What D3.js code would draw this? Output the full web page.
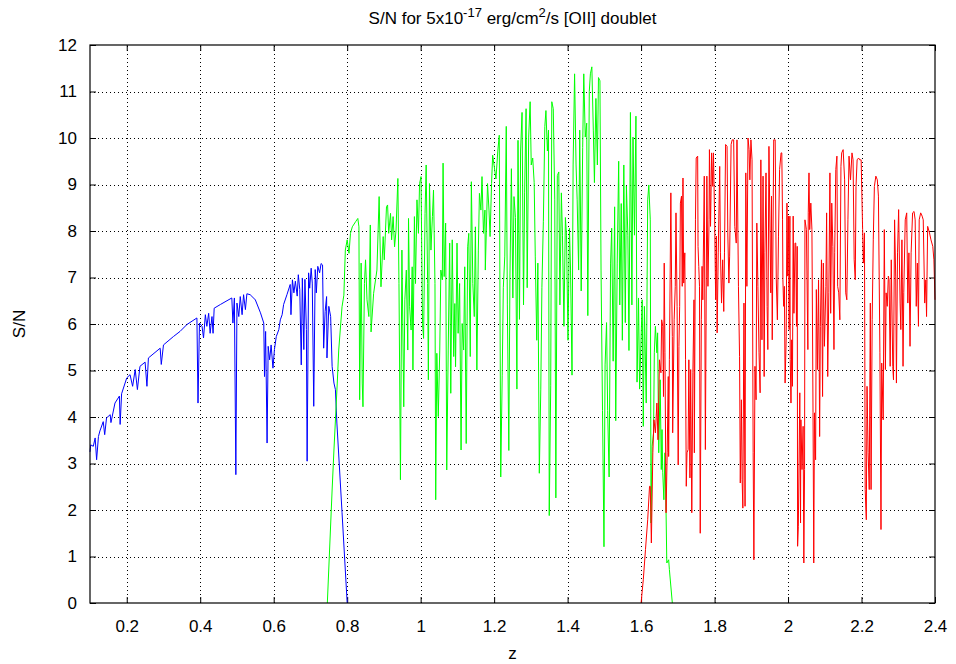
<!DOCTYPE html>
<html>
<head>
<meta charset="utf-8">
<script src="https://cdn.jsdelivr.net/npm/d3@7"></script>
<style>
  html, body { margin: 0; padding: 0; background: #fff; }
  svg { display: block; font-family: "Liberation Sans", Arial, Helvetica, sans-serif; }
</style>
</head>
<body>
<svg id="chart" width="956" height="664"></svg>
<script>
// Redshift grid and signal-to-noise for the three spectrograph arms
const zBlue = [0.100,0.102,0.109,0.114,0.118,0.123,0.127,0.136,0.140,0.145,0.155,0.157,0.168,0.180,0.182,0.186,0.200,0.209,0.216,0.223,0.229,0.236,0.250,0.255,0.259,0.291,0.294,0.300,0.327,0.345,0.364,0.391,0.394,0.398,0.405,0.409,0.414,0.418,0.423,0.427,0.432,0.435,0.438,0.455,0.486,0.489,0.493,0.497,0.500,0.505,0.509,0.514,0.518,0.523,0.527,0.536,0.550,0.564,0.573,0.575,0.578,0.582,0.585,0.589,0.593,0.598,0.602,0.607,0.614,0.618,0.623,0.627,0.636,0.645,0.647,0.651,0.655,0.659,0.664,0.667,0.671,0.675,0.678,0.682,0.685,0.689,0.691,0.695,0.698,0.702,0.705,0.709,0.713,0.716,0.720,0.725,0.729,0.733,0.736,0.740,0.744,0.745,0.750,0.755,0.759,0.764,0.768,0.772,0.786,0.800];
const snBlue = [3.25,3.40,3.37,3.55,3.08,3.58,3.70,3.90,3.62,3.98,4.05,3.88,4.30,4.45,3.84,4.50,4.84,4.91,4.66,5.02,4.59,5.09,5.18,4.66,5.27,5.48,5.13,5.55,5.73,5.84,5.99,6.13,4.30,6.02,5.95,5.70,6.20,5.95,6.23,5.80,6.16,5.80,6.34,6.42,6.56,6.02,6.56,2.76,6.45,6.16,6.59,6.20,6.63,6.31,6.65,6.63,6.52,6.24,6.02,4.87,5.84,3.44,5.52,5.23,5.55,5.05,5.45,5.73,5.88,6.09,6.20,6.42,6.63,6.85,6.20,6.95,6.67,6.92,6.60,7.06,6.74,5.12,6.99,5.45,6.96,5.88,3.05,7.10,6.77,7.20,6.88,4.23,7.17,6.67,7.24,7.10,7.30,7.27,5.48,6.27,6.59,5.27,6.38,6.16,5.09,4.73,4.59,3.87,1.95,0.00];

const zGreen = [0.746,0.759,0.764,0.773,0.777,0.786,0.791,0.795,0.800,0.805,0.809,0.814,0.823,0.829,0.832,0.834,0.838,0.841,0.843,0.847,0.850,0.854,0.859,0.863,0.865,0.872,0.881,0.887,0.892,0.898,0.901,0.907,0.910,0.913,0.918,0.921,0.925,0.929,0.933,0.938,0.941,0.945,0.949,0.954,0.957,0.961,0.965,0.967,0.970,0.974,0.977,0.979,0.983,0.986,0.990,0.994,0.997,1.001,1.005,1.008,1.012,1.015,1.019,1.021,1.024,1.028,1.032,1.035,1.039,1.041,1.044,1.048,1.052,1.055,1.059,1.061,1.064,1.068,1.071,1.075,1.079,1.082,1.086,1.090,1.093,1.095,1.099,1.102,1.106,1.110,1.113,1.117,1.120,1.124,1.128,1.131,1.135,1.138,1.142,1.146,1.149,1.153,1.157,1.160,1.164,1.167,1.171,1.175,1.176,1.182,1.186,1.189,1.193,1.196,
  1.205,1.210,1.214,1.218,1.222,1.225,1.229,1.233,1.236,1.240,1.243,1.247,1.251,1.254,1.258,1.262,1.265,1.269,1.272,1.276,1.280,1.283,1.287,1.290,1.294,1.298,1.301,1.305,1.309,1.312,1.316,1.319,1.323,1.327,1.330,1.334,1.338,1.341,1.345,1.348,1.350,1.354,1.357,1.361,1.365,1.368,1.372,1.376,1.379,1.383,1.386,1.390,1.394,1.397,1.401,1.405,1.408,1.412,1.415,1.419,1.423,1.426,1.430,1.433,1.437,1.441,1.444,1.448,1.452,1.455,1.459,1.462,1.466,1.470,1.473,1.477,1.481,1.484,1.488,1.491,1.495,1.499,1.502,1.506,1.509,1.513,1.517,1.520,1.524,1.528,1.531,1.535,1.539,1.542,1.546,1.549,1.553,1.557,1.560,1.564,1.567,1.571,1.575,1.578,1.582,1.586,1.589,1.593,1.596,
  1.603,1.606,1.609,1.614,1.618,1.621,1.625,1.627,1.630,1.634,1.636,1.639,1.643,1.645,1.648,1.652,1.655,1.657,1.659,1.662,1.665,1.668,1.670,1.675,1.677,1.685];
const snGreen = [0,2.43,3.29,4.73,5.44,6.37,6.62,7.59,7.81,7.52,7.95,8.09,8.20,8.27,8.09,4.37,7.31,4.73,4.22,6.87,7.38,6.52,6.16,8.13,5.83,6.66,7.16,8.74,6.80,7.88,7.38,8.52,8.56,7.95,8.38,7.81,8.31,7.66,8.02,9.13,6.87,2.65,7.59,4.22,6.52,7.16,5.44,8.27,6.37,5.87,7.23,5.01,8.31,6.87,8.67,7.95,9.02,9.17,6.01,5.69,8.38,9.42,6.87,4.80,9.02,7.59,8.31,8.88,6.87,2.22,5.37,4.01,5.44,7.16,6.95,9.46,7.02,8.17,2.86,5.44,7.74,4.51,7.81,5.30,6.44,5.08,7.74,5.80,6.87,3.29,6.01,5.44,7.23,3.43,7.66,7.95,5.30,9.06,6.87,6.16,8.09,5.01,7.59,8.81,8.45,9.17,7.95,8.45,7.16,9.02,8.45,7.88,9.02,9.63,
  9.12,9.72,10.06,2.71,4.90,6.78,7.46,10.25,6.41,3.28,7.01,9.34,6.56,8.74,8.29,4.60,9.95,6.10,9.72,10.55,6.41,8.82,10.63,6.78,10.02,10.78,9.42,9.57,9.04,7.46,5.65,7.31,2.79,4.60,6.78,8.21,10.25,10.59,9.72,10.17,1.88,4.67,10.78,10.63,8.67,2.26,9.19,9.27,6.41,8.82,7.91,5.95,8.29,7.91,5.65,8.06,7.16,4.90,9.42,11.38,9.42,8.67,7.16,10.17,6.71,9.80,11.38,10.02,10.32,6.18,11.00,11.38,11.53,10.17,9.04,10.85,9.42,11.30,11.23,7.16,4.14,1.21,5.12,6.03,4.14,2.71,7.31,8.06,5.20,8.52,3.92,7.31,9.50,6.41,8.59,5.65,9.42,6.03,8.97,7.91,5.43,10.55,6.41,10.02,7.91,10.47,4.75,6.56,4.60,
  6.52,3.80,6.38,4.30,8.67,8.99,8.24,1.72,3.37,3.66,5.38,5.95,5.38,5.81,3.23,4.80,2.87,3.73,2.80,2.22,3.23,1.94,0.86,0.93,0.72,0];

const zRed = [1.600,1.606,1.612,1.618,1.623,1.625,1.628,1.632,1.635,1.639,1.643,1.646,1.650,1.654,1.656,1.659,1.661,1.663,1.665,1.668,1.671,1.674,1.675,1.677,1.679,1.681,1.683,1.685,1.686,1.690,1.693,1.695,1.698,1.701,1.703,1.705,1.707,1.710,1.712,1.714,1.716,1.719,1.721,1.723,1.725,1.728,1.730,1.733,1.735,1.738,1.741,1.744,1.745,1.748,1.750,1.754,1.755,1.757,1.759,1.761,1.764,1.766,1.768,1.772,1.775,1.779,1.782,1.785,1.786,1.789,1.792,1.795,1.797,1.800,1.803,1.805,1.807,1.810,1.814,1.816,1.819,1.822,1.825,1.827,1.830,1.834,1.836,1.839,1.841,1.845,1.848,1.852,1.855,1.859,1.861,1.865,1.868,1.870,1.873,1.875,1.877,1.880,1.883,1.885,1.888,1.891,1.894,1.896,1.899,1.902,1.905,1.907,1.910,1.913,1.915,1.918,1.921,1.924,1.926,1.929,1.932,1.935,1.937,1.940,1.943,1.945,
  1.948,1.953,1.955,1.957,1.961,1.965,1.968,1.971,1.974,1.977,1.981,1.983,1.985,1.986,1.988,1.990,1.992,1.995,1.997,1.999,2.001,2.003,2.005,2.006,2.008,2.010,2.012,2.014,2.016,2.019,2.021,2.023,2.025,2.026,2.028,2.032,2.034,2.035,2.038,2.041,2.043,2.045,2.046,2.050,2.054,2.055,2.057,2.059,2.062,2.065,2.068,2.070,2.072,2.075,2.077,2.080,2.083,2.085,2.086,2.088,2.091,2.094,2.096,2.099,2.103,2.105,2.108,2.111,2.114,2.116,2.119,2.122,2.125,2.127,2.130,2.133,2.135,2.138,2.141,2.144,2.146,2.150,2.154,2.157,2.160,2.163,2.166,2.170,2.174,2.177,2.180,2.183,2.185,2.188,2.192,2.195,2.199,2.203,2.205,2.208,2.210,2.213,2.215,2.218,2.221,2.224,2.226,2.229,2.232,2.235,2.239,2.243,2.246,2.250,2.253,2.255,2.259,2.262,2.265,2.267,2.270,2.273,2.275,2.278,2.281,2.285,2.287,2.290,2.293,2.295,2.298,2.301,2.305,2.307,2.310,2.313,2.315,2.319,2.323,2.326,2.329,2.332,2.335,2.339,2.343,2.346,2.349,2.352,2.355,2.357,2.361,2.365,2.368,2.372,2.375,2.377,2.380,2.385,2.389,2.394,2.397,2.400];
const snRed = [0,0.50,1.15,1.79,2.51,2.51,1.29,3.23,3.94,3.66,4.30,3.51,5.23,4.95,6.09,5.95,4.44,7.31,5.38,1.94,3.23,4.87,3.15,5.23,6.95,8.82,6.95,5.73,3.66,6.09,6.81,8.39,6.38,2.97,5.52,6.38,8.60,8.75,6.81,9.14,6.88,7.53,5.23,2.51,3.23,3.30,5.23,2.69,5.02,1.94,4.95,6.52,3.23,8.24,9.57,9.61,7.67,7.24,6.81,1.50,6.09,7.24,6.52,9.18,3.30,9.18,6.81,8.24,9.75,8.10,9.68,8.96,9.68,8.35,6.52,7.89,5.81,7.53,9.39,7.53,6.45,7.38,6.27,7.53,9.86,9.82,7.96,6.88,7.46,9.86,9.96,9.96,8.10,7.74,9.96,6.81,5.30,2.58,4.37,2.65,2.04,6.45,2.08,9.25,6.81,10.00,9.75,9.10,9.96,9.53,3.23,0.93,5.09,4.37,8.17,6.81,5.38,4.52,9.53,5.66,9.18,4.87,7.53,9.25,6.38,5.45,
  9.82,6.67,8.75,5.66,9.96,9.96,6.95,6.09,7.89,9.32,9.68,9.68,8.24,6.95,6.38,6.81,4.73,5.73,8.60,7.03,8.32,5.88,8.32,5.23,4.30,5.66,4.66,8.32,6.23,7.74,7.74,5.95,7.67,1.22,1.65,4.52,1.72,3.94,2.87,3.80,0.86,2.87,8.24,8.03,5.45,8.39,9.25,8.03,8.60,8.03,4.09,0.86,4.09,3.08,6.74,5.02,6.95,4.95,3.58,5.95,7.38,4.44,7.31,5.52,6.81,8.39,4.87,6.67,9.25,6.23,8.60,7.67,5.45,7.53,9.32,9.61,6.81,6.67,6.09,9.39,9.68,9.75,9.10,6.67,6.52,8.24,9.61,9.10,9.68,9.53,7.38,6.95,8.96,9.53,9.57,9.53,9.53,8.03,7.31,7.96,2.44,1.79,4.66,3.23,2.44,6.45,2.44,6.09,7.81,8.96,9.18,9.10,8.75,5.38,1.58,5.16,3.94,8.03,5.02,6.67,6.38,7.03,6.95,5.09,7.38,5.09,4.80,8.24,7.03,4.73,7.53,8.46,6.45,5.88,7.81,5.09,6.67,8.24,8.39,6.45,7.53,5.52,7.53,8.39,8.42,8.24,6.38,7.31,5.95,8.24,8.39,8.32,8.24,6.45,6.95,6.16,8.10,7.96,7.81,7.67,7.38,6.52];

const xTicks = [0.2,0.4,0.6,0.8,1.0,1.2,1.4,1.6,1.8,2.0,2.2,2.4];
const yTicks = [0,1,2,3,4,5,6,7,8,9,10,11,12];

const W = 956, H = 664;
const margin = {left: 90, right: 21, top: 45, bottom: 61};
const svg = d3.select("#chart");

const x = d3.scaleLinear().domain([0.1, 2.4]).range([margin.left, W - margin.right]);
const y = d3.scaleLinear().domain([0, 12]).range([H - margin.bottom, margin.top]);
const fmt = d => String(+d.toFixed(1));

// dotted grid
const grid = svg.append("g").attr("stroke", "#000").attr("stroke-width", 1)
  .attr("stroke-dasharray", "1,3");
grid.selectAll("line.gx").data(xTicks.filter(t => t < 2.4)).join("line")
  .attr("x1", d => Math.round(x(d)) + 0.5).attr("x2", d => Math.round(x(d)) + 0.5)
  .attr("y1", y(0)).attr("y2", y(12));
grid.selectAll("line.gy").data(yTicks.filter(t => t > 0 && t < 12)).join("line")
  .attr("y1", d => Math.round(y(d)) + 0.5).attr("y2", d => Math.round(y(d)) + 0.5)
  .attr("x1", x(0.1)).attr("x2", x(2.4));

// axes with inward ticks, mirrored on top and right
const fontSize = 17;
function styleAxis(g) {
  g.select(".domain").remove();
  g.selectAll(".tick line").attr("stroke", "#000");
  g.selectAll(".tick text").attr("font-size", fontSize).attr("fill", "#000")
    .attr("font-family", "Liberation Sans, Arial, sans-serif");
}
svg.append("g").attr("transform", `translate(0,${y(0)})`)
  .call(d3.axisBottom(x).tickValues(xTicks).tickFormat(fmt).tickSize(-6).tickPadding(17))
  .call(styleAxis);
svg.append("g").attr("transform", `translate(0,${y(12)})`)
  .call(d3.axisTop(x).tickValues(xTicks).tickFormat("").tickSize(-6))
  .call(styleAxis);
svg.append("g").attr("transform", `translate(${x(0.1)},0)`)
  .call(d3.axisLeft(y).tickValues(yTicks).tickFormat(fmt).tickSize(-6).tickPadding(13))
  .call(styleAxis);
svg.append("g").attr("transform", `translate(${x(2.4)},0)`)
  .call(d3.axisRight(y).tickValues(yTicks).tickFormat("").tickSize(-6))
  .call(styleAxis);

// series
const series = [
  {z: zBlue, sn: snBlue, color: "#0000ff"},
  {z: zGreen, sn: snGreen, color: "#00ff00"},
  {z: zRed, sn: snRed, color: "#ff0000"}
];
const line = d3.line().x(d => x(d[0])).y(d => y(d[1]));
svg.append("g").selectAll("path").data(series).join("path")
  .attr("d", s => line(s.z.map((zv, i) => [zv, s.sn[i]])))
  .attr("fill", "none").attr("stroke", s => s.color).attr("stroke-width", 1)
  .attr("stroke-linejoin", "miter");

// frame
svg.append("rect").attr("x", x(0.1)).attr("y", y(12))
  .attr("width", x(2.4) - x(0.1)).attr("height", y(0) - y(12))
  .attr("fill", "none").attr("stroke", "#000").attr("stroke-width", 1.2);

// titles
const title = svg.append("text").attr("x", (x(0.1) + x(2.4)) / 2).attr("y", 24)
  .attr("text-anchor", "middle").attr("font-size", fontSize);
title.append("tspan").text("S/N for 5x10");
title.append("tspan").attr("dy", -7).attr("font-size", 13).text("-17");
title.append("tspan").attr("dy", 7).text(" erg/cm");
title.append("tspan").attr("dy", -7).attr("font-size", 13).text("2");
title.append("tspan").attr("dy", 7).text("/s [OII] doublet");

svg.append("text").attr("x", (x(0.1) + x(2.4)) / 2).attr("y", 659)
  .attr("text-anchor", "middle").attr("font-size", fontSize).text("z");
svg.append("text").attr("transform", `translate(25,${(y(0) + y(12)) / 2}) rotate(-90)`)
  .attr("text-anchor", "middle").attr("font-size", fontSize).text("S/N");
</script>
</body>
</html>
